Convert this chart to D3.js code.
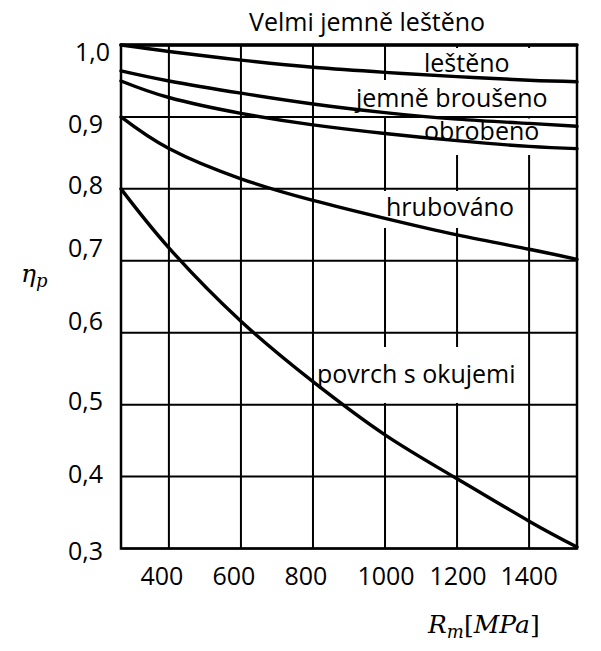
<!DOCTYPE html>
<html>
<head>
<meta charset="utf-8">
<script src="https://cdn.jsdelivr.net/npm/d3@7/dist/d3.min.js"></script>
<style>
  html, body { margin: 0; padding: 0; background: #fff; }
  svg { display: block; }
  text { font-family: "Open Sans", "Noto Sans", sans-serif; fill: #000; }
</style>
</head>
<body>
<svg id="chart" width="601" height="651"></svg>
<script>
// ---- data ----
const rm = [267, 400, 600, 800, 1000, 1200, 1400, 1533];
const velmiJemneLesteno = [1.0, 1.0, 1.0, 1.0, 1.0, 1.0, 1.0, 1.0];
const lesteno          = [1.000, 0.991, 0.979, 0.969, 0.962, 0.956, 0.951, 0.949];
const jemneBrouseno    = [0.964, 0.950, 0.933, 0.918, 0.906, 0.897, 0.891, 0.887];
const obrobeno         = [0.950, 0.927, 0.905, 0.889, 0.877, 0.867, 0.859, 0.856];
const hrubovano        = [0.900, 0.856, 0.814, 0.784, 0.759, 0.736, 0.716, 0.702];
const povrchSOkujemi   = [0.800, 0.718, 0.616, 0.532, 0.458, 0.397, 0.338, 0.302];
const seriesNames = ["Velmi jemně leštěno", "leštěno", "jemně broušeno", "obrobeno", "hrubováno", "povrch s okujemi"];
const xTicks = [400, 600, 800, 1000, 1200, 1400];
const yTicks = [0.3, 0.4, 0.5, 0.6, 0.7, 0.8, 0.9, 1.0];
const yTickLabels = ["0,3", "0,4", "0,5", "0,6", "0,7", "0,8", "0,9", "1,0"];
const xDomain = [267, 1533];
const yDomain = [0.3, 1.0];

// ---- layout (pixels / styling only) ----
const L = { left: 121, right: 577, top: 45, bottom: 548.5 };
const fontSize = 25;
const xTickDx = [-7, -7, -7, 1, 1, 0];
const yTickDy = [11, 6.3, 5.7, -2.3, -3.7, 5, 15.7, 15.7];   // baseline offsets from gridline
const yTickDx = [0, 0, 0, 0, 0, 0, 0, 7];
// label positions: [x start, baseline], background box [x0,y0,x1,y1]
const labelLayout = [
  { pos: [249, 31], box: null },
  { pos: [424, 71.5], box: [418, 48, 535, 80] },
  { pos: [356, 107], box: [350, 80, 550, 116] },
  { pos: [424, 140], box: [418, 118.5, 540, 155] },
  { pos: [386, 215.5], box: [380, 191, 518, 228] },
  { pos: [317, 383], box: [316, 347, 520, 403] }
];

const svg = d3.select("#chart");
const x = d3.scaleLinear().domain(xDomain).range([L.left, L.right]);
const y = d3.scaleLinear().domain(yDomain).range([L.bottom, L.top]);

// vertical grid lines
svg.append("g").selectAll("line").data(xTicks).join("line")
  .attr("x1", d => x(d)).attr("x2", d => x(d))
  .attr("y1", L.top).attr("y2", L.bottom)
  .attr("stroke", "#000").attr("stroke-width", 2);

// white label backgrounds (hide the vertical grid behind labels)
svg.append("g").selectAll("rect").data(labelLayout.filter(d => d.box)).join("rect")
  .attr("x", d => d.box[0]).attr("y", d => d.box[1])
  .attr("width", d => d.box[2] - d.box[0]).attr("height", d => d.box[3] - d.box[1])
  .attr("fill", "#fff");

// horizontal grid lines
svg.append("g").selectAll("line").data(yTicks).join("line")
  .attr("x1", L.left).attr("x2", L.right)
  .attr("y1", d => y(d)).attr("y2", d => y(d))
  .attr("stroke", "#000").attr("stroke-width", 2);

// frame
svg.append("rect")
  .attr("x", L.left).attr("y", L.top)
  .attr("width", L.right - L.left).attr("height", L.bottom - L.top)
  .attr("fill", "none").attr("stroke", "#000").attr("stroke-width", 2.5);

// curves
const allSeries = [velmiJemneLesteno, lesteno, jemneBrouseno, obrobeno, hrubovano, povrchSOkujemi];
const line = d3.line()
  .x((d, i) => x(rm[i]))
  .y(d => y(d))
  .curve(d3.curveNatural);
svg.append("g").selectAll("path").data(allSeries).join("path")
  .attr("d", d => line(d))
  .attr("fill", "none").attr("stroke", "#000")
  .attr("stroke-width", 3.4).attr("stroke-linecap", "round");

// series labels
svg.append("g").selectAll("text").data(seriesNames).join("text")
  .attr("x", (d, i) => labelLayout[i].pos[0])
  .attr("y", (d, i) => labelLayout[i].pos[1])
  .attr("font-size", fontSize)
  .text(d => d);

// x tick labels
svg.append("g").selectAll("text").data(xTicks).join("text")
  .attr("x", (d, i) => x(d) + xTickDx[i])
  .attr("y", 585)
  .attr("text-anchor", "middle")
  .attr("font-size", fontSize)
  .text(d => d);

// y tick labels
svg.append("g").selectAll("text").data(yTicks).join("text")
  .attr("x", (d, i) => 103 + yTickDx[i])
  .attr("y", (d, i) => y(d) + yTickDy[i])
  .attr("text-anchor", "end")
  .attr("font-size", fontSize)
  .text((d, i) => yTickLabels[i]);

// axis titles (math style)
const mathFont = "'DejaVu Serif', 'Liberation Serif', serif";
const yt = svg.append("text")
  .attr("x", 21).attr("y", 282)
  .style("font-family", mathFont).attr("font-size", 25).attr("font-style", "italic");
yt.append("tspan").text("η");
yt.append("tspan").attr("font-size", 18).attr("dy", 5).text("p");

const xt = svg.append("text")
  .attr("x", 428).attr("y", 633)
  .style("font-family", mathFont).attr("font-size", 25);
xt.append("tspan").attr("font-style", "italic").text("R");
xt.append("tspan").attr("font-style", "italic").attr("font-size", 18).attr("dy", 5).text("m");
xt.append("tspan").attr("dy", -5).text("[");
xt.append("tspan").attr("font-style", "italic").text("MPa");
xt.append("tspan").text("]");
</script>
</body>
</html>
